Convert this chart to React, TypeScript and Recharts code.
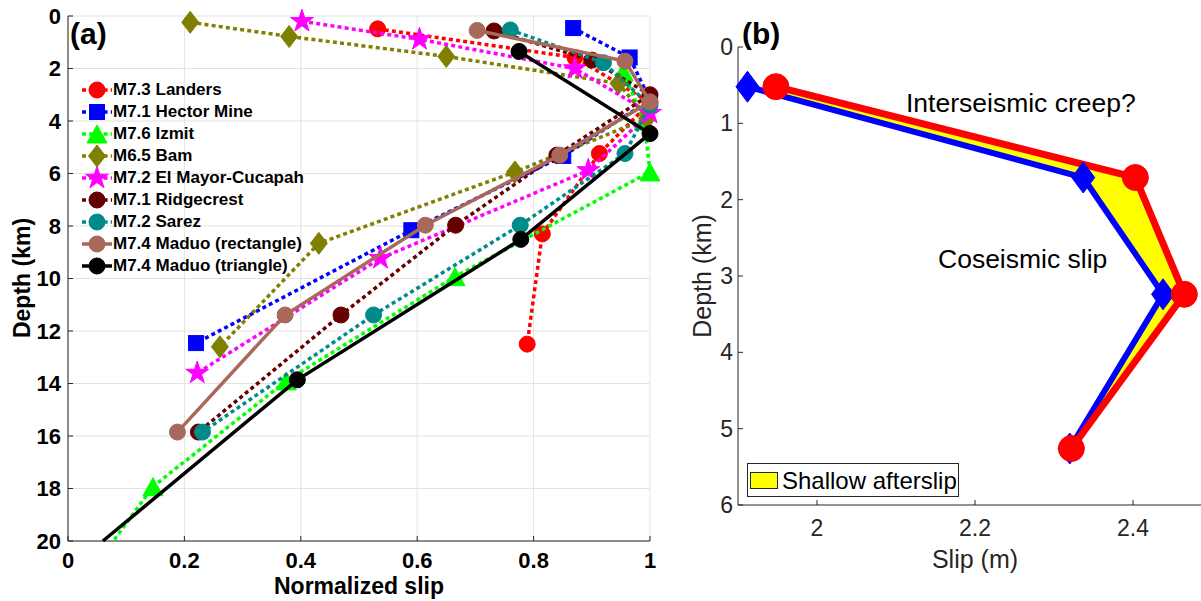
import React from 'react';
import {
  ScatterChart,
  Scatter,
  XAxis,
  YAxis,
  CartesianGrid,
  ComposedChart,
  Line,
  Area,
} from 'recharts';

const FONT = '"Liberation Sans", Arial, Helvetica, sans-serif';

// ---------- Panel (a) ----------
const slipTicks = [0, 0.2, 0.4, 0.6, 0.8, 1];
const depthTicks = [0, 2, 4, 6, 8, 10, 12, 14, 16, 18, 20];

const landersSlip = [0.532, 0.871, 1.0, 0.913, 0.815, 0.789];
const landersDepth = [0.49, 1.58, 3.3, 5.24, 8.3, 12.5];

const hectorSlip = [0.868, 0.965, 1.0, 0.851, 0.59, 0.22];
const hectorDepth = [0.46, 1.58, 3.2, 5.33, 8.16, 12.46];

const izmitSlip = [0.954, 0.99, 1.0, 0.665, 0.375, 0.146, 0.078];
const izmitDepth = [2.13, 4.0, 5.94, 9.93, 13.9, 17.93, 20];

const bamSlip = [0.21, 0.38, 0.65, 0.946, 0.995, 0.768, 0.431, 0.261];
const bamDepth = [0.24, 0.78, 1.54, 2.57, 3.9, 5.94, 8.66, 12.6];

const elMayorSlip = [0.402, 0.604, 0.871, 1.0, 0.894, 0.537, 0.222];
const elMayorDepth = [0.2, 0.89, 2.0, 3.7, 5.88, 9.23, 13.6];

const ridgecrestSlip = [0.732, 0.9, 1.0, 0.84, 0.666, 0.469, 0.224];
const ridgecrestDepth = [0.57, 1.68, 3.0, 5.3, 7.97, 11.39, 15.85];

const sarezSlip = [0.76, 0.92, 1.0, 0.957, 0.777, 0.525, 0.231];
const sarezDepth = [0.53, 1.78, 3.4, 5.24, 7.97, 11.39, 15.85];

const maduoRectSlip = [0.703, 0.957, 1.0, 0.845, 0.614, 0.373, 0.188];
const maduoRectDepth = [0.55, 1.72, 3.27, 5.3, 7.97, 11.39, 15.85];

const maduoTriSlip = [0.775, 1.0, 0.778, 0.394, 0.06];
const maduoTriDepth = [1.35, 4.48, 8.51, 13.86, 20];

type Kind = 'circle' | 'square' | 'triangle' | 'diamond' | 'star';

const seriesA: { name: string; slip: number[]; depth: number[]; color: string; kind: Kind; dashed: boolean }[] = [
  { name: 'M7.3 Landers', slip: landersSlip, depth: landersDepth, color: '#ff0000', kind: 'circle', dashed: true },
  { name: 'M7.1 Hector Mine', slip: hectorSlip, depth: hectorDepth, color: '#0000ff', kind: 'square', dashed: true },
  { name: 'M7.6 Izmit', slip: izmitSlip, depth: izmitDepth, color: '#00ff00', kind: 'triangle', dashed: true },
  { name: 'M6.5 Bam', slip: bamSlip, depth: bamDepth, color: '#808000', kind: 'diamond', dashed: true },
  { name: 'M7.2 El Mayor-Cucapah', slip: elMayorSlip, depth: elMayorDepth, color: '#ff00ff', kind: 'star', dashed: true },
  { name: 'M7.1 Ridgecrest', slip: ridgecrestSlip, depth: ridgecrestDepth, color: '#660000', kind: 'circle', dashed: true },
  { name: 'M7.2 Sarez', slip: sarezSlip, depth: sarezDepth, color: '#008b8b', kind: 'circle', dashed: true },
  { name: 'M7.4 Maduo (rectangle)', slip: maduoRectSlip, depth: maduoRectDepth, color: '#a8695a', kind: 'circle', dashed: false },
  { name: 'M7.4 Maduo (triangle)', slip: maduoTriSlip, depth: maduoTriDepth, color: '#000000', kind: 'circle', dashed: false },
];

// ---------- Panel (b) ----------
const slipTicksB = [2, 2.2, 2.4];
const depthTicksB = [0, 1, 2, 3, 4, 5, 6];
const depthB = [0.52, 1.71, 3.24, 5.26];
const coseismicSlipB = [1.912, 2.337, 2.438, 2.32];
const totalSlipB = [1.948, 2.403, 2.465, 2.322];

const rowsB = depthB.map((depth, i) => ({
  depth,
  blue: coseismicSlipB[i],
  red: totalSlipB[i],
  range: [coseismicSlipB[i], totalSlipB[i]],
}));

function markerEl(kind: Kind, cx: number, cy: number, color: string, s = 1) {
  switch (kind) {
    case 'circle':
      return <circle cx={cx} cy={cy} r={8 * s} fill={color} stroke={color} strokeWidth={1} />;
    case 'square': {
      const h = 7.5 * s;
      return <rect x={cx - h} y={cy - h} width={2 * h} height={2 * h} fill={color} stroke={color} strokeWidth={1} />;
    }
    case 'triangle': {
      const w = 10 * s;
      const h = 9 * s;
      return (
        <polygon
          points={`${cx},${cy - h} ${cx + w},${cy + h} ${cx - w},${cy + h}`}
          fill={color}
          stroke={color}
          strokeWidth={1}
        />
      );
    }
    case 'diamond': {
      const w = 8.5 * s;
      const h = 11 * s;
      return (
        <polygon
          points={`${cx},${cy - h} ${cx + w},${cy} ${cx},${cy + h} ${cx - w},${cy}`}
          fill={color}
          stroke={color}
          strokeWidth={1}
        />
      );
    }
    case 'star': {
      const R = 12 * s;
      const r = R * 0.382;
      const pts: string[] = [];
      for (let i = 0; i < 10; i++) {
        const rad = i % 2 === 0 ? R : r;
        const a = -Math.PI / 2 + (i * Math.PI) / 5;
        pts.push(`${cx + rad * Math.cos(a)},${cy + rad * Math.sin(a)}`);
      }
      return <polygon points={pts.join(' ')} fill={color} stroke={color} strokeWidth={1} />;
    }
  }
  return null;
}

const DASH = '4 3.2';

function PanelA() {
  const tickStyle = { fontSize: 22, fontWeight: 'bold' as const, fill: '#000', fontFamily: FONT };
  return (
    <div style={{ position: 'absolute', left: 0, top: 0, width: 680, height: 601 }}>
      <ScatterChart width={680} height={601} margin={{ top: 16, right: 30, bottom: 0, left: 0 }}>
        <CartesianGrid stroke="#e2e2e2" strokeWidth={1} />
        <XAxis
          type="number"
          dataKey="x"
          domain={[0, 1]}
          ticks={slipTicks}
          interval={0}
          height={60}
          tickSize={-5}
          tickMargin={16}
          stroke="#262626"
          tick={tickStyle}
        />
        <YAxis
          type="number"
          dataKey="d"
          domain={[0, 20]}
          reversed
          ticks={depthTicks}
          interval={0}
          width={68}
          tickSize={-5}
          tickMargin={12}
          stroke="#262626"
          tick={tickStyle}
        />
        <XAxis
          xAxisId="top"
          orientation="top"
          type="number"
          domain={[0, 1]}
          ticks={slipTicks}
          interval={0}
          height={0}
          tickSize={-5}
          tick={false}
          stroke="#262626"
        />
        <YAxis
          yAxisId="right"
          orientation="right"
          type="number"
          domain={[0, 20]}
          reversed
          ticks={depthTicks}
          interval={0}
          width={0}
          tickSize={-5}
          tick={false}
          stroke="#262626"
        />
        {seriesA.map((s) => (
          <Scatter
            key={s.name}
            name={s.name}
            data={s.slip.map((x, i) => ({ x, d: s.depth[i] }))}
            fill={s.color}
            line={{
              stroke: s.color,
              strokeWidth: 3.5,
              strokeDasharray: s.dashed ? DASH : undefined,
            }}
            lineType="joint"
            isAnimationActive={false}
            shape={(p: any) =>
              p.payload && p.payload.d >= 20 ? <g /> : markerEl(s.kind, p.cx, p.cy, s.color)
            }
          />
        ))}
      </ScatterChart>
      <div
        style={{
          position: 'absolute',
          left: 70,
          top: 44 - 0.846 * 30,
          fontFamily: FONT,
          fontWeight: 'bold',
          fontSize: 30,
          lineHeight: '30px',
          color: '#000',
        }}
      >
        (a)
      </div>
      <div
        style={{
          position: 'absolute',
          left: 68,
          width: 582,
          top: 594 - 0.846 * 23,
          textAlign: 'center',
          fontFamily: FONT,
          fontWeight: 'bold',
          fontSize: 23,
          lineHeight: '23px',
          color: '#000',
        }}
      >
        Normalized slip
      </div>
      <div
        style={{
          position: 'absolute',
          left: 22,
          top: 278,
          transform: 'translate(-50%, -50%) rotate(-90deg)',
          whiteSpace: 'nowrap',
          fontFamily: FONT,
          fontWeight: 'bold',
          fontSize: 23,
          lineHeight: '23px',
          color: '#000',
        }}
      >
        Depth (km)
      </div>
      {seriesA.map((s, i) => (
        <div
          key={s.name}
          style={{
            position: 'absolute',
            left: 80,
            top: 90.3 + i * 21.9 - 11,
            height: 22,
            display: 'flex',
            alignItems: 'center',
            whiteSpace: 'nowrap',
          }}
        >
          <svg width={34} height={22} style={{ display: 'block' }}>
            <line
              x1={2}
              y1={11}
              x2={32}
              y2={11}
              stroke={s.color}
              strokeWidth={3.5}
              strokeDasharray={s.dashed ? DASH : undefined}
            />
            {markerEl(s.kind, 17, 11, s.color)}
          </svg>
          <span
            style={{
              marginLeft: -1,
              fontFamily: FONT,
              fontWeight: 'bold',
              fontSize: 17,
              lineHeight: '22px',
              color: '#000',
            }}
          >
            {s.name}
          </span>
        </div>
      ))}
    </div>
  );
}

function PanelB() {
  const tickStyle = { fontSize: 23, fill: '#262626', fontFamily: FONT };
  const redDot = (p: any) => (
    <circle key={`r${p.index}`} cx={p.cx} cy={p.cy} r={13} fill="#ff0000" stroke="#ff0000" />
  );
  const blueDot = (p: any) => {
    const w = 11.5;
    const h = 15.5;
    return (
      <polygon
        key={`b${p.index}`}
        points={`${p.cx},${p.cy - h} ${p.cx + w},${p.cy} ${p.cx},${p.cy + h} ${p.cx - w},${p.cy}`}
        fill="#0000ff"
        stroke="#0000ff"
      />
    );
  };
  return (
    <div style={{ position: 'absolute', left: 680, top: 0, width: 560, height: 601 }}>
      <ComposedChart
        layout="vertical"
        width={560}
        height={601}
        data={rowsB}
        margin={{ top: 47, right: 28, bottom: 0, left: 0 }}
      >
        <XAxis
          type="number"
          domain={[1.9, 2.5]}
          ticks={slipTicksB}
          interval={0}
          height={96}
          tickSize={-5}
          tickMargin={20}
          stroke="#262626"
          tick={tickStyle}
        />
        <YAxis
          type="number"
          dataKey="depth"
          domain={[0, 6]}
          ticks={depthTicksB}
          interval={0}
          width={58}
          tickSize={-5}
          tickMargin={10}
          stroke="#262626"
          tick={tickStyle}
        />
        <Area
          dataKey="range"
          stroke="none"
          fill="#ffff00"
          fillOpacity={1}
          isAnimationActive={false}
          activeDot={false}
        />
        <Line
          dataKey="blue"
          stroke="#0000ff"
          strokeWidth={6}
          dot={blueDot}
          activeDot={false}
          isAnimationActive={false}
        />
        <Line
          dataKey="red"
          stroke="#ff0000"
          strokeWidth={7}
          dot={redDot}
          activeDot={false}
          isAnimationActive={false}
        />
      </ComposedChart>
      <div
        style={{
          position: 'absolute',
          left: 62,
          top: 44 - 0.846 * 30,
          fontFamily: FONT,
          fontWeight: 'bold',
          fontSize: 30,
          lineHeight: '30px',
          color: '#000',
        }}
      >
        (b)
      </div>
      <div
        style={{
          position: 'absolute',
          left: 226,
          top: 112 - 0.846 * 26.5,
          fontFamily: FONT,
          fontSize: 26.5,
          lineHeight: '26.5px',
          color: '#000',
          whiteSpace: 'nowrap',
        }}
      >
        Interseismic creep?
      </div>
      <div
        style={{
          position: 'absolute',
          left: 258,
          top: 268 - 0.846 * 26.5,
          fontFamily: FONT,
          fontSize: 26.5,
          lineHeight: '26.5px',
          color: '#000',
          whiteSpace: 'nowrap',
        }}
      >
        Coseismic slip
      </div>
      <div
        style={{
          position: 'absolute',
          left: 58,
          width: 474,
          top: 568 - 0.846 * 25,
          textAlign: 'center',
          fontFamily: FONT,
          fontSize: 25,
          lineHeight: '25px',
          color: '#262626',
        }}
      >
        Slip (m)
      </div>
      <div
        style={{
          position: 'absolute',
          left: 22,
          top: 276,
          transform: 'translate(-50%, -50%) rotate(-90deg)',
          whiteSpace: 'nowrap',
          fontFamily: FONT,
          fontSize: 25,
          lineHeight: '25px',
          color: '#262626',
        }}
      >
        Depth (km)
      </div>
      <div
        style={{
          position: 'absolute',
          left: 67,
          top: 463,
          width: 212,
          height: 34,
          border: '1px solid #262626',
          background: '#fff',
          boxSizing: 'border-box',
        }}
      >
        <div
          style={{
            position: 'absolute',
            left: 2,
            top: 8,
            width: 28,
            height: 17,
            background: '#ffff00',
            border: '1px solid #262626',
            boxSizing: 'border-box',
          }}
        />
        <div
          style={{
            position: 'absolute',
            left: 34,
            top: 25 - 0.846 * 24,
            fontFamily: FONT,
            fontSize: 24,
            lineHeight: '24px',
            color: '#000',
            whiteSpace: 'nowrap',
          }}
        >
          Shallow afterslip
        </div>
      </div>
    </div>
  );
}

export default function App() {
  return (
    <div
      style={{
        position: 'absolute',
        left: 0,
        top: 0,
        width: 1201,
        height: 601,
        overflow: 'hidden',
        background: '#fff',
      }}
    >
      <PanelA />
      <PanelB />
    </div>
  );
}
